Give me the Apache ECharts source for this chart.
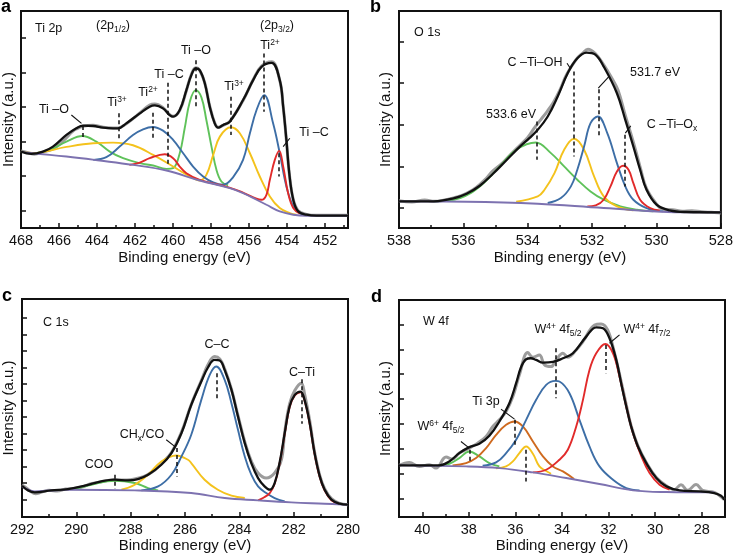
<!DOCTYPE html>
<html>
<head>
<meta charset="utf-8">
<script src="https://cdn.jsdelivr.net/npm/echarts@6/dist/echarts.min.js"></script>
<style>
html, body { margin: 0; padding: 0; background: #fff; }
#main { width: 736px; height: 559px; }
</style>
</head>
<body>
<div id="main"></div>
<script>
// ---- a: Ti 2p ----
var tiTicks = [452, 454, 456, 458, 460, 462, 464, 466, 468];
var tiMinor = [451, 453, 455, 457, 459, 461, 463, 465, 467];
var tiBlack = [[468.0,230],[467.46,223],[466.84,230],[466.32,245],[465.61,280],[465.09,300],[464.74,308],[464.21,307],[463.68,302],[463.16,300],[462.89,300],[462.46,315],[461.75,345],[461.23,365],[460.96,369],[460.53,360],[460.18,340],[460.0,335],[459.65,355],[459.30,415],[459.04,460],[458.81,480],[458.60,475],[458.33,435],[458.07,365],[457.81,315],[457.63,302],[457.37,310],[457.02,320],[456.32,385],[455.79,445],[455.35,485],[454.82,497],[454.39,445],[454.21,365],[454.04,265],[453.89,165],[453.68,85],[453.42,50],[452.98,40],[452.46,37],[450.8,37]];
var tiGrey = [[468.0,232],[467.6,226],[467.3,222],[466.84,229],[466.32,238],[465.9,255],[465.61,272],[465.3,290],[465.09,298],[464.74,306],[464.21,309],[463.68,303],[463.16,301],[462.89,301],[462.46,314],[461.75,346],[461.23,370],[460.96,373],[460.53,362],[460.18,341],[460.0,336],[459.65,354],[459.30,414],[459.04,462],[458.81,482],[458.60,474],[458.33,436],[458.07,366],[457.81,316],[457.63,303],[457.37,309],[457.02,321],[456.32,384],[455.79,446],[455.35,487],[454.82,500],[454.39,444],[454.21,366],[454.04,263],[453.89,165],[453.68,86],[453.42,52],[452.98,41],[452.46,38],[450.8,38]];
var tiGreen = [[468.0,230],[467.37,225],[466.49,235],[465.61,260],[464.77,277],[464.04,260],[463.33,230],[462.63,210],[461.75,195],[461.05,188],[460.35,178],[460.0,180],[459.65,225],[459.39,300],[459.12,380],[458.81,415],[458.51,393],[458.25,325],[457.98,245],[457.72,175],[457.46,140],[457.11,128]];
var tiYellow = [[468.0,230],[467.37,226],[465.61,244],[464.21,255],[463.16,257],[462.11,249],[461.05,220],[460.0,185],[459.12,155],[458.60,143],[458.25,160],[457.89,220],[457.54,275],[456.96,303],[456.49,285],[455.96,225],[455.44,155],[454.91,95],[454.39,60],[453.86,45],[453.51,40]];
var tiBlue = [[464.2,205],[463.51,213],[462.81,245],[462.11,280],[461.58,297],[461.07,304],[460.53,293],[460.0,265],[459.47,225],[458.95,185],[458.42,155],[457.89,137],[457.37,130],[456.84,153],[456.32,205],[455.96,285],[455.61,355],[455.21,400],[454.74,315],[454.39,225],[454.04,125],[453.68,65],[453.33,45],[452.98,38]];
var tiRed = [[462.3,190],[461.75,197],[461.23,210],[460.44,222],[460.0,210],[459.65,185],[459.30,165],[458.6,145],[457.0,121],[456.3,106],[455.61,88],[455.35,85],[455.09,100],[454.91,145],[454.65,205],[454.42,232],[454.21,185],[453.95,105],[453.68,60],[453.33,43]];
var tiBase = [[468.0,230],[467.37,225],[465.61,215],[463.86,203],[462.11,190],[460.35,173],[458.60,143],[457.02,120],[456.32,105],[455.61,85],[455.09,70],[454.39,50],[453.68,40],[452.98,37],[450.8,37]];
var tiPeaks = [[464.77,307,270],[462.86,345,270],[461.07,347,270],[460.30,437,190],[458.81,505,365],[456.96,395,280],[455.21,525,350],[454.42,225,155]];
var tiLeaders = [[465.35,340,464.82,315],[454.21,245,453.86,270]];

// ---- b: O 1s ----
var oTicks = [528, 530, 532, 534, 536, 538];
var oMinor = [529, 531, 533, 535, 537];
var oBlack = [[538.0,80],[536.92,80],[536.31,89],[535.90,103],[535.49,127],[535.08,163],[534.67,203],[534.26,243],[533.95,270],[533.69,295],[533.38,335],[533.07,395],[532.76,465],[532.46,510],[532.17,527],[531.90,521],[531.64,485],[531.23,405],[530.97,325],[530.72,245],[530.51,175],[530.31,115],[530.0,70],[529.59,53],[529.08,48],[528.0,47]];
var oGrey = [[538.0,82],[537.6,78],[537.2,84],[536.9,80],[536.5,86],[536.2,93],[535.9,104],[535.6,122],[535.3,148],[535.1,170],[534.8,194],[534.6,214],[534.3,243],[534.0,272],[533.8,300],[533.6,325],[533.4,350],[533.2,378],[533.0,415],[532.8,460],[532.5,506],[532.3,525],[532.13,537],[531.9,524],[531.64,490],[531.4,452],[531.2,415],[530.97,338],[530.72,258],[530.5,180],[530.31,118],[530.0,72],[529.8,56],[529.5,55],[529.2,50],[528.9,52],[528.6,49],[528.3,47],[528.0,45]];
var oGreen = [[536.92,80],[536.10,90],[535.49,125],[534.87,185],[534.36,235],[533.75,257],[533.28,225],[532.87,185],[532.46,145],[532.05,110],[531.64,85],[531.12,65],[530.61,55],[530.10,50]];
var oYellow = [[534.36,79],[533.69,95],[533.48,115],[533.17,165],[532.87,235],[532.56,268],[532.25,235],[531.94,155],[531.64,95],[531.23,65],[530.72,53]];
var oBlue = [[533.38,75],[532.97,90],[532.66,125],[532.46,175],[532.25,245],[532.05,315],[531.82,335],[531.53,285],[531.23,195],[530.97,125],[530.72,85],[530.31,60],[529.79,50]];
var oRed = [[532.15,65],[531.89,68],[531.64,85],[531.43,125],[531.23,170],[531.04,187],[530.87,175],[530.72,135],[530.51,85],[530.20,60],[529.90,53]];
var oBase = [[538.0,80],[535.90,79],[533.69,73],[531.64,60],[529.08,47],[528.0,47]];
var oPeaks = [[533.72,320,205],[532.58,470,215],[531.81,417,275],[531.0,280,125]];
var oLeaders = [[532.78,495,532.66,477],[531.81,420,531.48,455],[530.97,285,530.80,307]];

// ---- c: C 1s ----
var cTicks = [280, 282, 284, 286, 288, 290, 292];
var cMinor = [281, 283, 285, 287, 289, 291];
var cBlack = [[292.0,94],[291.78,80],[291.53,74],[290.92,80],[290.31,84],[289.69,94],[289.08,107],[288.59,112],[288.10,110],[287.73,114],[287.36,127],[286.87,157],[286.50,192],[286.13,252],[285.77,337],[285.40,407],[285.15,450],[284.91,472],[284.72,470],[284.54,442],[284.29,382],[284.05,302],[283.80,222],[283.56,162],[283.31,117],[283.07,92],[282.88,82],[282.70,102],[282.52,162],[282.33,252],[282.15,332],[281.96,367],[281.75,377],[281.60,352],[281.41,282],[281.23,192],[281.04,122],[280.86,82],[280.61,52],[280.31,40],[280.0,37]];
var cGrey = [[292.0,96],[291.85,88],[291.7,78],[291.5,70],[291.3,74],[291.0,80],[290.7,78],[290.4,84],[290.1,86],[289.8,90],[289.5,99],[289.2,104],[288.9,109],[288.6,112],[288.3,111],[288.0,112],[287.7,117],[287.4,126],[287.1,142],[286.87,160],[286.5,194],[286.13,255],[285.77,338],[285.4,410],[285.15,458],[284.91,482],[284.72,475],[284.54,445],[284.29,384],[284.05,305],[283.8,226],[283.56,168],[283.31,132],[283.01,117],[282.70,132],[282.45,172],[282.33,255],[282.15,340],[281.96,380],[281.72,402],[281.6,370],[281.41,290],[281.23,195],[281.04,125],[280.86,85],[280.61,55],[280.31,41],[280.0,37]];
var cGreen = [[290.06,84],[289.45,97],[288.59,109],[287.85,102],[287.36,87],[286.99,80]];
var cYellow = [[288.34,82],[287.85,97],[287.36,127],[286.87,167],[286.32,185],[285.89,172],[285.77,162],[285.28,112],[284.79,82],[284.29,64],[283.80,57]];
var cBlue = [[287.61,80],[286.99,92],[286.50,127],[286.13,182],[285.77,247],[285.40,352],[285.09,427],[284.85,452],[284.54,412],[284.29,342],[284.05,262],[283.80,182],[283.56,127],[283.31,92],[283.01,72],[282.70,57],[282.33,47]];
var cRed = [[283.31,50],[283.13,57],[282.88,72],[282.70,100],[282.52,160],[282.33,250],[282.15,330],[281.96,365],[281.75,375],[281.60,350],[281.41,280],[281.23,190],[281.04,120],[280.86,80],[280.61,50],[280.31,39]];
var cBase = [[292.0,92],[291.53,77],[290.31,82],[287.85,80],[285.77,72],[284.54,57],[283.31,50],[282.09,44],[280.86,40],[280.0,37]];
var cPeaks = [[288.59,127,84],[286.29,207,122],[284.83,432,350],[281.72,414,280]];
var cLeaders = [[286.69,232,286.38,212]];

// ---- d: W 4f ----
var wTicks = [28, 30, 32, 34, 36, 38, 40];
var wMinor = [29, 31, 33, 35, 37, 39];
var wBlack = [[41.0,155],[39.27,155],[38.84,167],[38.41,192],[37.98,210],[37.55,220],[37.12,244],[36.69,287],[36.26,342],[35.97,402],[35.76,450],[35.54,474],[35.34,477],[35.11,472],[34.82,464],[34.39,466],[33.96,477],[33.53,492],[32.96,542],[32.53,570],[32.24,567],[31.96,537],[31.67,472],[31.46,402],[31.24,332],[31.03,272],[30.74,212],[30.38,162],[29.95,117],[29.52,92],[28.95,80],[28.09,77],[27.46,72],[27.17,64],[27.03,52]];
var wGrey = [[40.99,155],[40.56,164],[40.13,152],[39.70,157],[39.41,147],[38.98,180],[38.70,174],[38.41,192],[37.98,207],[37.62,222],[37.26,242],[36.97,272],[36.69,292],[36.40,317],[36.11,362],[35.83,427],[35.47,494],[35.25,480],[34.97,487],[34.75,457],[34.47,452],[34.25,472],[33.96,492],[33.75,480],[33.39,502],[33.10,527],[32.60,577],[32.32,580],[32.04,562],[31.76,497],[31.46,407],[31.24,337],[31.03,274],[30.74,214],[30.38,164],[29.95,119],[29.52,94],[29.18,82],[28.89,97],[28.60,80],[28.24,98],[27.96,80],[27.46,74],[27.03,52]];
var wGreen = [[39.27,155],[38.84,160],[38.41,177],[37.98,197],[37.55,182],[37.12,162],[36.69,152]];
var wOrange = [[38.70,155],[38.12,162],[37.69,177],[37.26,207],[36.83,247],[36.40,277],[36.04,287],[35.68,272],[35.25,227],[34.82,182],[34.39,152],[33.96,137],[33.48,114]];
var wYellow = [[36.83,146],[36.40,152],[36.11,167],[35.83,192],[35.54,212],[35.25,190],[34.97,152],[34.68,138],[34.47,130]];
var wBlue = [[37.41,154],[36.83,164],[36.40,192],[35.97,232],[35.54,292],[35.11,352],[34.68,397],[34.28,409],[34.11,407],[33.68,372],[33.25,292],[32.82,212],[32.39,152],[31.81,112],[31.24,87],[30.67,80]];
var wRed = [[35.25,134],[34.68,142],[34.11,172],[33.75,202],[33.39,272],[33.10,352],[32.82,442],[32.53,492],[32.14,520],[31.81,492],[31.53,422],[31.24,332],[30.95,252],[30.59,182],[30.24,132],[29.81,97],[29.38,82]];
var wBase = [[41.0,155],[38.12,152],[36.69,147],[35.25,134],[33.82,117],[32.39,99],[30.95,80],[29.52,75],[27.46,74]];
var wPeaks = [[37.95,202,160],[36.04,292,217],[35.54,202,107],[34.28,507,357],[32.14,517,432]];
var wLeaders = [[38.34,227,37.98,207],[36.62,324,36.04,294],[31.96,522,31.53,547]];

var FONT = 'Liberation Sans, Arial, Helvetica, sans-serif';
var C = { black: '#111111', grey: '#9c9c9c', green: '#5fc25a', yellow: '#f4c21c', blue: '#3d6ea6',
          red: '#e12a2a', purple: '#7d72b0', orange: '#cf6a1f' };

var panels = [
  { grid: { left: 21, top: 11, width: 327, height: 217 }, x: [450.8, 468], ymax: 653, ticks: tiTicks, minor: tiMinor,
    yt: [52, 104, 6], gaps: [22, 5], peaks: tiPeaks, leaders: tiLeaders,
    lines: [[tiGrey, 'grey'], [tiGreen, 'green'], [tiYellow, 'yellow'], [tiBlue, 'blue'], [tiRed, 'red'], [tiBase, 'purple'], [tiBlack, 'black']] },
  { grid: { left: 399, top: 11, width: 327, height: 217 }, x: [528, 538], ymax: 652, ticks: oTicks, minor: oMinor,
    yt: [60, 125, 5], gaps: [22, 6], peaks: oPeaks, leaders: oLeaders,
    lines: [[oGrey, 'grey'], [oGreen, 'green'], [oYellow, 'yellow'], [oBlue, 'blue'], [oRed, 'red'], [oBase, 'purple'], [oBlack, 'black']] },
  { grid: { left: 21, top: 299, width: 327, height: 218 }, x: [280, 292], ymax: 655, ticks: cTicks, minor: cMinor,
    yt: [52, 49.7, 12], gaps: [21, 6], peaks: cPeaks, leaders: cLeaders,
    lines: [[cGrey, 'grey'], [cGreen, 'green'], [cYellow, 'yellow'], [cBlue, 'blue'], [cRed, 'red'], [cBase, 'purple'], [cBlack, 'black']] },
  { grid: { left: 399, top: 300, width: 326, height: 217 }, x: [27, 41], ymax: 652, ticks: wTicks, minor: wMinor,
    yt: [54, 75, 8], gaps: [20, 6], peaks: wPeaks, leaders: wLeaders,
    lines: [[wGrey, 'grey'], [wGreen, 'green'], [wOrange, 'orange'], [wYellow, 'yellow'], [wBlue, 'blue'], [wRed, 'red'], [wBase, 'purple'], [wBlack, 'black']] }
];

var grids = [], xAxes = [], yAxes = [], series = [];
panels.forEach(function (p, i) {
  grids.push(Object.assign({ show: true, borderColor: '#111', borderWidth: 2 }, p.grid));
  var tickStyle = { color: '#111', width: 1.5 };
  xAxes.push({
    gridIndex: i, type: 'value', position: 'bottom', min: p.x[0], max: p.x[1], inverse: true,
    name: 'Binding energy (eV)', nameLocation: 'middle', nameGap: p.gaps[0],
    nameTextStyle: { fontSize: 15, color: '#111', fontFamily: FONT },
    axisLine: { show: false, onZero: false }, splitLine: { show: false },
    axisTick: { show: true, inside: true, length: 5, lineStyle: tickStyle, customValues: p.ticks },
    axisLabel: { fontSize: 14.5, color: '#111', margin: 5, fontFamily: FONT, customValues: p.ticks }
  });
  xAxes.push({
    gridIndex: i, type: 'value', position: 'bottom', min: p.x[0], max: p.x[1], inverse: true,
    axisLine: { show: false, onZero: false }, splitLine: { show: false }, axisLabel: { show: false },
    axisTick: { show: true, inside: true, length: 3, lineStyle: tickStyle, customValues: p.minor }
  });
  var yv = [];
  for (var k = 0; k < p.yt[2]; k++) yv.push(p.yt[0] + k * p.yt[1]);
  yAxes.push({
    gridIndex: i, type: 'value', min: 0, max: p.ymax,
    name: 'Intensity (a.u.)', nameLocation: 'middle', nameGap: p.gaps[1], nameRotate: 90,
    nameTextStyle: { fontSize: 15, color: '#111', fontFamily: FONT },
    axisLine: { show: false, onZero: false }, splitLine: { show: false }, axisLabel: { show: false },
    axisTick: { show: true, inside: true, length: 5, lineStyle: tickStyle, customValues: yv }
  });
  p.lines.forEach(function (l) {
    var col = C[l[1]];
    var w = l[1] === 'black' ? 2.3 : (l[1] === 'grey' ? 3 : 1.9);
    var s = {
      type: 'line', data: l[0], xAxisIndex: 2 * i, yAxisIndex: i,
      smooth: 0.4, symbol: 'none', showSymbol: false, silent: true,
      lineStyle: { color: col, width: w }, itemStyle: { color: col }
    };
    if (l[1] === 'black') {
      s.markLine = {
        silent: true, symbol: ['none', 'none'], label: { show: false }, animation: false,
        lineStyle: { color: '#111', width: 1.5, type: [4, 3] },
        data: p.peaks.map(function (d) { return [{ coord: [d[0], d[1]] }, { coord: [d[0], d[2]] }]; })
      };
    }
    if (l[1] === 'purple') {
      s.markLine = {
        silent: true, symbol: ['none', 'none'], label: { show: false }, animation: false,
        lineStyle: { color: '#111', width: 1.1, type: 'solid' },
        data: p.leaders.map(function (d) { return [{ coord: [d[0], d[1]] }, { coord: [d[2], d[3]] }]; })
      };
    }
    series.push(s);
  });
});

var RICH = {
  sup: { fontSize: 8.5, lineHeight: 8, padding: [0, 0, 7, 0], fontFamily: FONT, fill: '#111' },
  sub: { fontSize: 8.5, lineHeight: 8, padding: [7, 0, 0, 0], fontFamily: FONT, fill: '#111' }
};
var notes = [
  [35, 29, 'Ti 2p', 'left'], [113, 26, '(2p{sub|1/2})'], [277, 26, '(2p{sub|3/2})'],
  [54, 110, 'Ti –O'], [117, 103, 'Ti{sup|3+}'], [148, 93, 'Ti{sup|2+}'], [169, 75, 'Ti –C'],
  [196, 51, 'Ti –O'], [234, 87, 'Ti{sup|3+}'], [270, 46, 'Ti{sup|2+}'], [314, 133, 'Ti –C'],
  [414, 33, 'O 1s', 'left'], [511, 115, '533.6 eV'], [535, 63, 'C –Ti–OH'], [655, 73, '531.7 eV'],
  [672, 125, 'C –Ti–O{sub|x}'],
  [43, 323, 'C 1s', 'left'], [99, 465, 'COO'], [142, 435, 'CH{sub|x}/CO'], [217, 345, 'C–C'], [302, 373, 'C–Ti'],
  [423, 322, 'W 4f', 'left'], [441, 427, 'W{sup|6+} 4f{sub|5/2}'], [486, 402, 'Ti 3p'],
  [558, 330, 'W{sup|4+} 4f{sub|5/2}'], [647, 330, 'W{sup|4+} 4f{sub|7/2}']
];
var graphic = notes.map(function (n) {
  var al = n[3] || 'center';
  return { type: 'text', x: n[0], y: n[1], silent: true, z: 100,
    style: { text: n[2], align: al, textAlign: al, verticalAlign: 'middle', textVerticalAlign: 'middle',
      fontSize: 12.5, fontFamily: FONT, fill: '#111', rich: RICH } };
});
[[1, 7, 'a'], [370, 7, 'b'], [2, 296, 'c'], [371, 297, 'd']].forEach(function (t) {
  graphic.push({ type: 'text', x: t[0], y: t[1], silent: true,
    style: { text: t[2], align: 'left', textAlign: 'left', verticalAlign: 'middle', textVerticalAlign: 'middle',
      fontSize: 18, fontWeight: 'bold', fontFamily: FONT, fill: '#000' } });
});

var chart = echarts.init(document.getElementById('main'));
chart.setOption({
  animation: false,
  backgroundColor: '#fff',
  textStyle: { fontFamily: FONT },
  grid: grids, xAxis: xAxes, yAxis: yAxes, series: series, graphic: graphic
});
</script>
</body>
</html>
